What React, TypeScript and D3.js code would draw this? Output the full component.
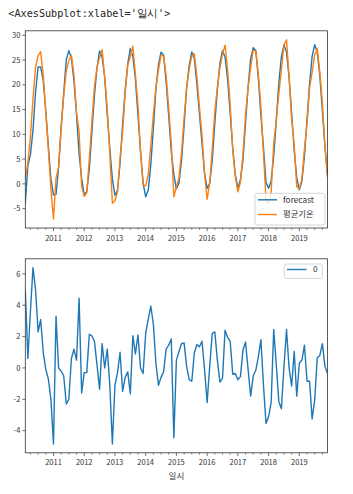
import React from 'react';
import * as d3 from 'd3';

// Monthly series, Feb 2010 .. Dec 2019
const START_MONTH = 2; // February 2010
const yearLabels = ['2011', '2012', '2013', '2014', '2015', '2016', '2017', '2018', '2019'];

const actual = [
  1.0, 4.3, 9.5, 17.2, 23.5, 25.9, 26.7, 21.9, 14.6, 6.9, -1.0,
  -7.1, 1.2, 3.3, 11.3, 17.8, 22.8, 24.9, 26.0, 22.0, 14.5, 10.5, -0.5,
  -2.5, -1.8, 5.1, 12.6, 19.6, 23.6, 25.5, 27.1, 21.5, 15.2, 6.0, -3.9,
  -3.4, -1.6, 5.2, 10.5, 18.4, 24.0, 25.65, 27.8, 22.0, 15.9, 6.5, -0.2,
  -0.4, 1.8, 7.8, 14.0, 19.5, 23.0, 26.0, 25.8, 21.8, 15.2, 8.3, -2.6,
  -0.5, 1.2, 6.3, 13.3, 19.5, 23.2, 25.8, 26.3, 21.7, 15.5, 9.8, 2.0,
  -3.1, 0.2, 7.0, 14.6, 19.6, 23.5, 26.25, 28.0, 23.0, 16.0, 6.8, 1.5,
  -1.6, 0.3, 6.0, 14.0, 19.5, 23.5, 27.0, 26.8, 22.0, 15.6, 6.2, -3.3,
  -4.0, -1.6, 8.1, 13.0, 18.2, 23.1, 28.1, 29.1, 21.5, 13.1, 7.8, -0.6,
  -0.9, 1.0, 7.1, 12.1, 19.4, 22.5, 26.05, 27.3, 22.6, 16.4, 7.6, 1.4,
];

const forecast = [
  -4.0, 3.7, 5.9, 10.8, 18.5, 23.6, 23.6, 20.9, 14.7, 7.6, 1.0,
  -2.25, -2.1, 3.3, 11.5, 18.3, 25.1, 26.9, 25.4, 20.8, 14.0, 6.05, 1.1,
  -2.2, -1.5, 2.95, 10.55, 17.9, 23.4, 26.85, 25.55, 21.5, 14.0, 7.1, 0.95,
  -2.3, -1.3, 4.2, 12.0, 19.0, 24.25, 27.3, 25.75, 21.1, 13.8, 6.5, 0.15,
  -2.6, -1.3, 3.85, 11.2, 19.2, 24.1, 26.6, 26.05, 20.6, 13.75, 6.45, 1.85,
  -1.0, 0.15, 4.75, 11.7, 19.4, 23.95, 26.65, 25.35, 20.2, 14.15, 8.1, 2.1,
  -0.9, 0.1, 4.8, 12.3, 19.1, 24.4, 26.9, 25.6, 21.05, 14.3, 7.2, 1.85,
  -0.85, 0.85, 4.85, 12.35, 19.6, 25.3, 27.5, 26.95, 21.3, 13.8, 7.3, 0.25,
  -0.9, 0.6, 5.65, 12.8, 20.35, 25.7, 28.0, 26.65, 21.5, 14.25, 6.75, 1.2,
  -1.2, 0.5, 5.65, 12.95, 20.25, 25.75, 28.1, 26.65, 21.8, 14.85, 7.5, 1.75,
];

const residual = [
  5.0, 0.6, 3.6, 6.4, 5.0, 2.3, 3.1, 1.0, -0.1, -0.7, -2.0,
  -4.85, 3.3, 0.0, -0.2, -0.5, -2.3, -2.0, 0.6, 1.2, 0.5, 4.45, -1.6,
  -0.3, -0.3, 2.15, 2.05, 1.7, 0.2, -1.35, 1.55, 0.0, 1.2, -1.1, -4.85,
  -1.1, -0.3, 1.0, -1.5, -0.6, -0.25, -1.65, 2.05, 0.9, 2.1, 0.0, -0.35,
  2.2, 3.1, 3.95, 2.8, 0.3, -1.1, -0.6, -0.25, 1.2, 1.45, 1.85, -4.45,
  0.5, 1.05, 1.55, 1.6, 0.1, -0.75, -0.85, 0.95, 1.5, 1.35, 1.7, -0.1,
  -2.2, 0.1, 2.2, 2.3, 0.5, -0.9, -0.65, 2.4, 1.95, 1.7, -0.4, -0.35,
  -0.75, -0.55, 1.15, 1.65, -0.1, -1.8, -0.5, -0.15, 0.7, 1.8, -1.1, -3.55,
  -3.1, -2.2, 2.45, 0.2, -2.15, -2.6, 0.1, 2.45, 0.0, -1.15, 1.05, -1.8,
  0.3, 0.5, 1.45, -0.85, -0.85, -3.25, -2.05, 0.65, 0.8, 1.55, 0.1, -0.35,
];

const yTicksTop = [-5, 0, 5, 10, 15, 20, 25, 30];
const yTicksBottom = [-4, -2, 0, 2, 4, 6];

const BLUE = '#1f77b4';
const ORANGE = '#ff7f0e';
const AX = '#333';
const FONT = "'Noto Sans CJK KR', 'Noto Sans', sans-serif";

const LEFT = 25.3;
const RIGHT = 327.5;

function padDomain(vals: number[]): [number, number] {
  const lo = d3.min(vals) as number;
  const hi = d3.max(vals) as number;
  const r = hi - lo;
  return [lo - 0.05 * r, hi + 0.05 * r];
}

const n = actual.length;
const x = d3.scaleLinear().domain([0, n - 1]).range([LEFT, RIGHT]);

// calendar month (1..12) of index i
const monthOf = (i: number) => ((START_MONTH - 1 + i) % 12) + 1;
const idx = d3.range(n);
const majorIdx = idx.filter((i) => monthOf(i) === 1);
const minorIdx = idx.filter((i) => [4, 7, 10].includes(monthOf(i)));

function Panel({ top, bottom, yTicks, series, clipId }: {
  top: number; bottom: number; yTicks: number[];
  series: { values: number[]; color: string }[]; clipId: string;
}) {
  const all = series.flatMap((s) => s.values);
  const y = d3.scaleLinear().domain(padDomain(all)).range([bottom, top]);
  const line = d3.line<number>().x((_, i) => x(i)).y((d) => y(d));
  return (
    <g>
      <defs>
        <clipPath id={clipId}>
          <rect x={LEFT} y={top} width={RIGHT - LEFT} height={bottom - top} />
        </clipPath>
      </defs>
      <rect x={LEFT} y={top} width={RIGHT - LEFT} height={bottom - top} fill="#fff" />
      <g clipPath={`url(#${clipId})`}>
        {series.map((s, k) => (
          <path key={k} d={line(s.values) || ''} fill="none" stroke={s.color} strokeWidth={1.4} strokeLinejoin="round" />
        ))}
      </g>
      <rect x={LEFT} y={top} width={RIGHT - LEFT} height={bottom - top} fill="none" stroke={AX} strokeWidth={0.8} />
      {yTicks.map((t) => (
        <g key={t}>
          <line x1={LEFT - 3} x2={LEFT} y1={y(t)} y2={y(t)} stroke={AX} strokeWidth={0.7} />
          <text x={LEFT - 5} y={y(t)} dy="0.35em" textAnchor="end" fontSize={7.5} fontFamily={FONT} fill="#333">{t}</text>
        </g>
      ))}
      {majorIdx.map((i, k) => (
        <g key={i}>
          <line x1={x(i)} x2={x(i)} y1={bottom} y2={bottom + 3.2} stroke={AX} strokeWidth={0.7} />
          <text x={x(i)} y={bottom + 12.5} textAnchor="middle" fontSize={7.5} fontFamily={FONT} fill="#333">{yearLabels[k]}</text>
        </g>
      ))}
      {minorIdx.map((i) => (
        <line key={i} x1={x(i)} x2={x(i)} y1={bottom} y2={bottom + 1.8} stroke={AX} strokeWidth={0.6} />
      ))}
    </g>
  );
}

export default function App() {
  return (
    <svg width={353} height={494} style={{ position: 'absolute', left: 0, top: 0, background: '#fff' }}>
      <text x={8.3} y={16.8} fontSize={10.5} fontFamily="'DejaVu Sans Mono', monospace" fill="#222"
        textLength={162} lengthAdjust="spacingAndGlyphs">{"<AxesSubplot:xlabel='일시'>"}</text>

      <Panel top={30.8} bottom={228} yTicks={yTicksTop} clipId="c1"
        series={[{ values: forecast, color: BLUE }, { values: actual, color: ORANGE }]} />
      {/* legend top */}
      <g>
        <rect x={255} y={193.3} width={70} height={31.7} rx={2} fill="#fff" fillOpacity={0.8} stroke="#ccc" strokeWidth={0.8} />
        <line x1={258} x2={277} y1={199.8} y2={199.8} stroke={BLUE} strokeWidth={1.4} />
        <text x={283} y={199.8} dy="0.35em" fontSize={8.3} fontFamily={FONT} fill="#333">forecast</text>
        <line x1={258} x2={277} y1={214.5} y2={214.5} stroke={ORANGE} strokeWidth={1.4} />
        <text x={283} y={214.5} dy="0.35em" fontSize={8.3} fontFamily={FONT} fill="#333">평균기온</text>
      </g>

      <Panel top={258.8} bottom={452.8} yTicks={yTicksBottom} clipId="c2"
        series={[{ values: residual, color: BLUE }]} />
      <g>
        <rect x={284.3} y={264} width={38} height={14.5} rx={2} fill="#fff" fillOpacity={0.8} stroke="#ccc" strokeWidth={0.8} />
        <line x1={287} x2={306.5} y1={269.5} y2={269.5} stroke={BLUE} strokeWidth={1.4} />
        <text x={313} y={269.5} dy="0.35em" fontSize={8.3} fontFamily={FONT} fill="#333">0</text>
      </g>
      <text x={(LEFT + RIGHT) / 2} y={479} textAnchor="middle" fontSize={8.5} fontFamily={FONT} fill="#333">일시</text>
    </svg>
  );
}
